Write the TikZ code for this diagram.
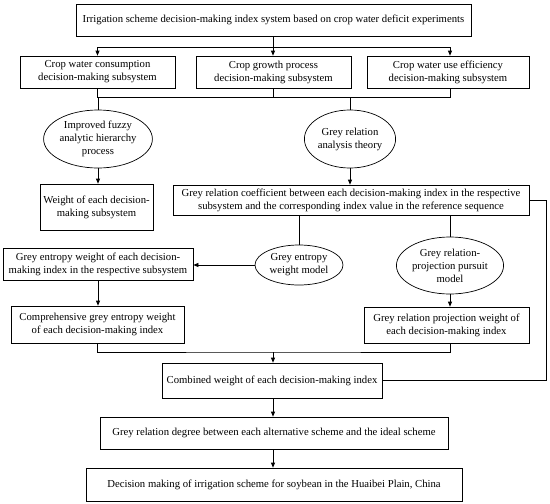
\documentclass[tikz,border=0pt]{standalone}
\usepackage{fontspec}
\setmainfont{Liberation Serif}
\usetikzlibrary{arrows.meta,shapes.geometric,calc}
\begin{document}
\begin{tikzpicture}[x=1pt,y=-1pt,
  font=\fontsize{10.7}{13}\selectfont,
  line width=0.7pt,
  arr/.style={-{Triangle[length=5pt,width=4pt]}},
  bx/.style={draw,rectangle,inner sep=0pt,align=center},
  el/.style={draw,ellipse,inner sep=0pt,align=center}]
\useasboundingbox[fill=white] (0,0) rectangle (550,504);
% boxes: centre, width, height
\node[bx,minimum width=395pt,minimum height=32pt] (top) at (273.5,20) {Irrigation scheme decision-making index system based on crop water deficit experiments};
\node[bx,minimum width=155pt,minimum height=32pt] (b1) at (97.5,72) {Crop water consumption\\decision-making subsystem};
\node[bx,minimum width=155pt,minimum height=32pt] (b2) at (273.5,72) {Crop growth process\\decision-making subsystem};
\node[bx,minimum width=162pt,minimum height=32pt] (b3) at (448,72) {Crop water use efficiency\\decision-making subsystem};
\node[el,minimum width=90pt,minimum height=58pt] (e1) at (98,139) {Improved fuzzy\\analytic hierarchy\\process};
\node[el,minimum width=88pt,minimum height=58pt] (e2) at (350,139) {Grey relation\\analysis theory};
\node[bx,minimum width=113pt,minimum height=46pt] (w) at (96.5,207) {Weight of each decision-\\making subsystem};
\node[bx,minimum width=356pt,minimum height=30pt] (gr) at (351,200) {Grey relation coefficient between each decision-making index in the respective\\subsystem and the corresponding index value in the reference sequence};
\node[el,minimum width=88pt,minimum height=40pt] (e3) at (299,265) {Grey entropy\\weight model};
\node[el,minimum width=84pt,minimum height=57pt] (e4) at (450,265.5) {Grey relation-\\projection pursuit\\model};
\node[bx,minimum width=190pt,minimum height=32pt] (gew) at (98,264) {Grey entropy weight of each decision-\\making index in the respective subsystem};
\node[bx,minimum width=173pt,minimum height=37pt] (comp) at (97.5,324.5) {Comprehensive grey entropy weight\\of each decision-making index};
\node[bx,minimum width=165pt,minimum height=36pt] (proj) at (446.5,325) {Grey relation projection weight of\\each decision-making index};
\node[bx,minimum width=220pt,minimum height=35pt] (comb) at (272,380.5) {Combined weight of each decision-making index};
\node[bx,minimum width=348pt,minimum height=32pt] (grd) at (274,433) {Grey relation degree between each alternative scheme and the ideal scheme};
\node[bx,minimum width=376pt,minimum height=33pt] (dm) at (274,484.5) {Decision making of irrigation scheme for soybean in the Huaibei Plain, China};
% junctions
\coordinate (hj) at (273,47);
\coordinate (bj) at (273,97);
\coordinate (mj) at (273,352);
% top to subsystems
\draw (top.south -| hj) -- (hj);
\draw[arr] (hj) -| (b1.north);
\draw[arr] (hj) -- (b2.north -| hj);
\draw[arr] (hj) -| ($(b3.north)+(2,0)$);
% subsystems to bottom bus
\draw (b1.south) -- (b1.south |- bj) -- ($(b3.south |- bj)+(2,0)$) -- ($(b3.south)+(2,0)$);
\draw (b2.south -| bj) -- (bj);
\draw (e1.north |- bj) -- (e1.north);
\draw (e2.north |- bj) -- (e2.north);
% ellipses to boxes
\draw[arr] (e1.south) -- (w.north -| e1.south);
\draw[arr] (e2.south) -- (gr.north -| e2.south);
\draw (e3.north |- gr.south) -- (e3.north);
\draw (e4.north |- gr.south) -- (e4.north);
\draw[arr] (e3.west) -- (gew.east |- e3.west);
\draw[arr] (gew.south) -- (comp.north -| gew.south);
\draw[arr] (e4.south) -- (proj.north -| e4.south);
% merge
\draw (comp.south) |- (mj) -| (e4.south |- proj.south);
\draw[arr] (mj) -- (comb.north -| mj);
\draw (gr.east) -- ++(17,0) |- (comb.east);
\draw[arr] (comb.south -| mj) -- (grd.north -| mj);
\draw[arr] (grd.south -| mj) -- (dm.north -| mj);
\end{tikzpicture}
\end{document}
